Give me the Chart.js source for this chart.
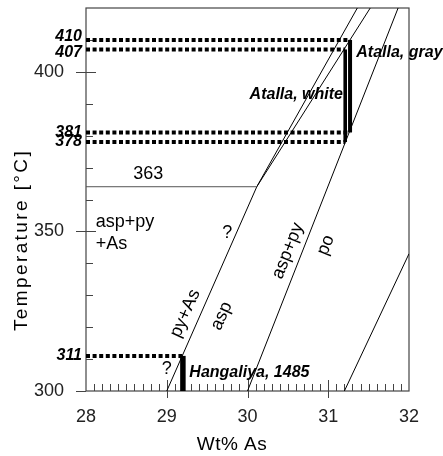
<!DOCTYPE html>
<html>
<head>
<meta charset="utf-8">
<script src="https://cdn.jsdelivr.net/npm/chart.js@4.4.1/dist/chart.umd.min.js"></script>
<style>
  body { margin: 0; background: #fff; }
  canvas { display: block; }
</style>
</head>
<body>
<canvas id="chart" width="443" height="456"></canvas>
<script>
// axis ranges and ticks
const X_MIN = 28, X_MAX = 32
const T_MIN = 300, T_MAX = 420
const xTickValues = [28, 29, 30, 31, 32]
const yTickValues = [300, 350, 400]

// phase boundaries (wt% As, temperature)
const invariantT = 364
const invariantX = 30.115
const boundaryPyAsX = [29.0, invariantX]
const boundaryPyAsT = [300, invariantT]
const boundaryUpper1X = [invariantX, 31.36]
const boundaryUpper1T = [invariantT, 420]
const boundaryUpper2X = [invariantX, 31.52]
const boundaryUpper2T = [invariantT, 420]
const boundaryAspPyX = [30.0, 31.865]
const boundaryAspPyT = [300, 420]
const boundaryPoX = [31.2, 32.0]
const boundaryPoT = [300, 343]
const invariantLineX = [28, invariantX]
const invariantLineT = [invariantT, invariantT]

// fluid inclusion samples
const sampleNames = ['Hangaliya, 1485', 'Atalla, white', 'Atalla, gray']
const sampleX = [29.2, 31.21, 31.27]
const sampleTmin = [300, 378, 381]
const sampleTmax = [311, 407, 410]

const FONT = "'Liberation Sans', Arial, sans-serif"
const barWidths = [5.5, 3.6, 4]

const toPts = (xs, ts) => xs.map((x, i) => ({x: x, y: ts[i]}))

const thinLine = (xs, ts, color) => ({
  data: toPts(xs, ts),
  showLine: true,
  borderColor: color || '#000',
  borderWidth: 1,
  pointRadius: 0,
  fill: false
})

const datasets = [
  thinLine(invariantLineX, invariantLineT, '#555'),
  thinLine(boundaryPyAsX, boundaryPyAsT),
  thinLine(boundaryUpper1X, boundaryUpper1T),
  thinLine(boundaryUpper2X, boundaryUpper2T),
  thinLine(boundaryAspPyX, boundaryAspPyT),
  thinLine(boundaryPoX, boundaryPoT)
]

// dotted homogenisation temperature lines
sampleNames.forEach((name, i) => {
  [sampleTmin[i], sampleTmax[i]].forEach((t) => {
    if (t <= T_MIN) return
    datasets.push({
      data: [{x: X_MIN, y: t}, {x: sampleX[i], y: t}],
      showLine: true,
      borderColor: '#000',
      borderWidth: 4,
      borderDash: [4, 2.6],
      borderCapStyle: 'butt',
      pointRadius: 0
    })
  })
})

// thick bars
sampleNames.forEach((name, i) => {
  datasets.push({
    data: [{x: sampleX[i], y: sampleTmin[i]}, {x: sampleX[i], y: sampleTmax[i]}],
    showLine: true,
    borderColor: '#000',
    borderWidth: barWidths[i],
    borderCapStyle: 'butt',
    pointRadius: 0
  })
})

// text placed in data coordinates
const fieldLabels = [
  {text: '363', x: 28.77, y: 367.9, align: 'center'},
  {text: 'asp+py', x: 28.12, y: 353.0, align: 'left'},
  {text: '+As', x: 28.12, y: 346.0, align: 'left'},
  {text: '?', x: 29.75, y: 349.4, align: 'center'},
  {text: '?', x: 29.0, y: 307.0, align: 'center'},
  {text: 'py+As', x: 29.23, y: 324.3, align: 'center', rot: -66},
  {text: 'asp', x: 29.68, y: 323.5, align: 'center', rot: -66},
  {text: 'asp+py', x: 30.5, y: 343.9, align: 'center', rot: -68.5},
  {text: 'po', x: 30.97, y: 345.7, align: 'center', rot: -68.5}
]
const sampleLabels = [
  {text: sampleNames[0], x: 29.28, y: 305.8, align: 'left'},
  {text: sampleNames[1], x: 31.182, y: 393.0, align: 'right'},
  {text: sampleNames[2], x: 31.347, y: 406.1, align: 'left'}
]
const tempLabelShift = {410: 1, 407: -1}

const decorPlugin = {
  id: 'decor',
  beforeDatasetsDraw(chart) {
    const {ctx, chartArea: a, scales: {x, y}} = chart
    ctx.save()
    ctx.strokeStyle = '#444'
    ctx.lineWidth = 1.2
    ctx.strokeRect(a.left, a.top, a.right - a.left, a.bottom - a.top)
    ctx.lineWidth = 1
    ctx.beginPath()
    for (let t = 310; t < T_MAX; t += 10) {
      const py = Math.round(y.getPixelForValue(t)) + 0.5
      if (yTickValues.includes(t)) {
        ctx.moveTo(a.left - 10, py); ctx.lineTo(a.left + 10, py)
      } else {
        ctx.moveTo(a.left, py); ctx.lineTo(a.left + 7, py)
      }
    }
    const p300 = Math.round(y.getPixelForValue(300)) + 0.5
    ctx.moveTo(a.left - 10, p300); ctx.lineTo(a.left, p300)
    for (let k = 1; k < 40; k++) {
      const v = X_MIN + k / 10
      const px = Math.round(x.getPixelForValue(v)) + 0.5
      if (k % 10 === 0) {
        ctx.moveTo(px, a.bottom + 7); ctx.lineTo(px, a.bottom - 11)
      } else {
        ctx.moveTo(px, a.bottom); ctx.lineTo(px, a.bottom - 7)
      }
    }
    ctx.stroke()
    ctx.restore()
  },
  afterDatasetsDraw(chart) {
    const {ctx, chartArea: a, scales: {x, y}} = chart
    ctx.save()
    ctx.fillStyle = '#000'
    ctx.textBaseline = 'middle'

    const put = (lab, font) => {
      ctx.save()
      ctx.font = font
      ctx.translate(x.getPixelForValue(lab.x), y.getPixelForValue(lab.y))
      if (lab.rot) ctx.rotate(lab.rot * Math.PI / 180)
      ctx.textAlign = lab.align
      ctx.fillText(lab.text, 0, 0)
      ctx.restore()
    }
    fieldLabels.forEach((l) => put(l, '18px ' + FONT))
    sampleLabels.forEach((l) => put(l, 'italic bold 16px ' + FONT))

    // temperature values left of the axis
    ctx.font = 'italic bold 16px ' + FONT
    ctx.textAlign = 'right'
    sampleNames.forEach((n, i) => {
      [sampleTmin[i], sampleTmax[i]].forEach((t) => {
        if (t <= T_MIN) return
        const dy = tempLabelShift[t] ? -tempLabelShift[t] * 3 : 0
        ctx.fillText(String(t), a.left - 4, y.getPixelForValue(t) + dy)
      })
    })

    // axis titles
    ctx.font = '19px ' + FONT
    ctx.textAlign = 'center'
    ctx.letterSpacing = '0.5px'
    ctx.fillText('Wt% As', 232, 445)
    ctx.letterSpacing = '2.4px'
    ctx.save()
    ctx.translate(22, 240)
    ctx.rotate(-Math.PI / 2)
    ctx.fillText('Temperature [°C]', 0, 0)
    ctx.restore()
    ctx.restore()
  }
}

new Chart(document.getElementById('chart'), {
  type: 'scatter',
  data: {datasets: datasets},
  options: {
    responsive: false,
    devicePixelRatio: 1,
    animation: false,
    layout: {padding: {left: 0, top: 8, right: 34, bottom: 0}},
    plugins: {legend: {display: false}, tooltip: {enabled: false}},
    scales: {
      x: {
        type: 'linear',
        min: X_MIN,
        max: X_MAX,
        afterFit: (s) => { s.height = 65; s.paddingLeft = 0; s.paddingRight = 0 },
        afterBuildTicks: (s) => { s.ticks = xTickValues.map((v) => ({value: v})) },
        grid: {display: false},
        border: {display: false},
        ticks: {color: '#222', font: {family: FONT, size: 18}, padding: 7, maxRotation: 0}
      },
      y: {
        type: 'linear',
        min: T_MIN,
        max: T_MAX,
        afterFit: (s) => { s.width = 86; s.paddingTop = 0; s.paddingBottom = 0 },
        afterBuildTicks: (s) => { s.ticks = yTickValues.map((v) => ({value: v})) },
        grid: {display: false},
        border: {display: false},
        ticks: {color: '#222', font: {family: FONT, size: 18}, padding: 14}
      }
    }
  },
  plugins: [decorPlugin]
})
</script>
</body>
</html>
